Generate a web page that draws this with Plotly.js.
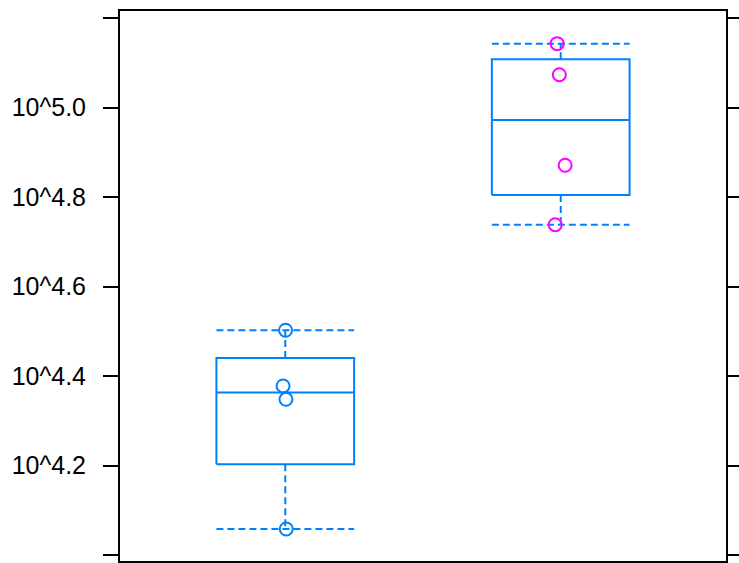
<!DOCTYPE html>
<html>
<head>
<meta charset="utf-8">
<script src="https://cdn.plot.ly/plotly-3.0.1.min.js"></script>
<style>html,body{margin:0;padding:0;background:#fff;}#chart{width:739px;height:563px;}</style>
</head>
<body>
<div id="chart"></div>
<script>
// Values (log10 scale, as displayed)
const groupPositions = [1, 2];
const group1Values = [4.5026, 4.3781, 4.3484, 4.0585];
const group2Values = [5.1430, 5.0737, 4.8713, 4.7385];
// horizontal jitter of the points
const group1Jitter = [0.001, -0.008, 0.0025, 0.0036];
const group2Jitter = [-0.013, -0.005, 0.016, -0.020];
const pointColors = ['#0080ff', '#ff00ff'];
const yTickValues = [4.0, 4.2, 4.4, 4.6, 4.8, 5.0, 5.2];
const yTickLabels = ['', '10^4.2', '10^4.4', '10^4.6', '10^4.8', '10^5.0', ''];

const BOX_COLOR = '#0080ff';
const HALF = 0.25;
const LW = 2;

function fivenum(v) {
  const x = v.slice().sort((a, b) => a - b);
  const n = x.length;
  const n4 = Math.floor((n + 3) / 2) / 2;
  const d = [1, n4, (n + 1) / 2, n + 1 - n4, n];
  return d.map(k => 0.5 * (x[Math.floor(k) - 1] + x[Math.ceil(k) - 1]));
}
function stats(v) {
  const f = fivenum(v);
  const iqr = f[3] - f[1];
  const lo = f[1] - 1.5 * iqr, hi = f[3] + 1.5 * iqr;
  const inside = v.filter(a => a >= lo && a <= hi);
  return {q1: f[1], med: f[2], q3: f[3], wlo: Math.min(...inside), whi: Math.max(...inside)};
}

const traces = [];
const allGroups = [group1Values, group2Values];
const allJitter = [group1Jitter, group2Jitter];
allGroups.forEach((vals, i) => {
  const c = groupPositions[i];
  const s = stats(vals);
  traces.push({
    x: [c, c, null, c, c, null, c - HALF, c + HALF, null, c - HALF, c + HALF],
    y: [s.q3, s.whi, null, s.q1, s.wlo, null, s.whi, s.whi, null, s.wlo, s.wlo],
    mode: 'lines', line: {color: BOX_COLOR, width: LW, dash: '7px,4px'},
    hoverinfo: 'skip', showlegend: false
  });
  traces.push({
    x: [c - HALF, c + HALF, c + HALF, c - HALF, c - HALF, null, c - HALF, c + HALF],
    y: [s.q1, s.q1, s.q3, s.q3, s.q1, null, s.med, s.med],
    mode: 'lines', line: {color: BOX_COLOR, width: LW},
    hoverinfo: 'skip', showlegend: false
  });
});
allGroups.forEach((vals, i) => {
  const c = groupPositions[i];
  traces.push({
    x: vals.map((v, k) => c + allJitter[i][k]),
    y: vals,
    mode: 'markers',
    marker: {symbol: 'circle-open', size: 13, color: pointColors[i], line: {width: LW, color: pointColors[i]}},
    showlegend: false
  });
});

const layout = {
  width: 739, height: 563,
  margin: {l: 120, r: 13, t: 11, b: 2, pad: 0},
  paper_bgcolor: '#ffffff', plot_bgcolor: '#ffffff',
  showlegend: false,
  xaxis: {
    range: [0.4, 2.6], showgrid: false, zeroline: false,
    showline: true, mirror: true, linecolor: '#000', linewidth: 2,
    ticks: '', showticklabels: false, fixedrange: true
  },
  yaxis: {
    range: [3.987, 5.216], showgrid: false, zeroline: false,
    showline: true, mirror: 'ticks', linecolor: '#000', linewidth: 2,
    tickmode: 'array', tickvals: yTickValues, ticktext: yTickLabels,
    ticks: 'outside', ticklen: 15, tickwidth: 2, tickcolor: '#000',
    ticklabelstandoff: 12,
    tickfont: {family: 'Liberation Sans, Arial, sans-serif', size: 25, color: '#000'},
    fixedrange: true
  }
};
Plotly.newPlot('chart', traces, layout, {displayModeBar: false, staticPlot: true});
</script>
</body>
</html>
